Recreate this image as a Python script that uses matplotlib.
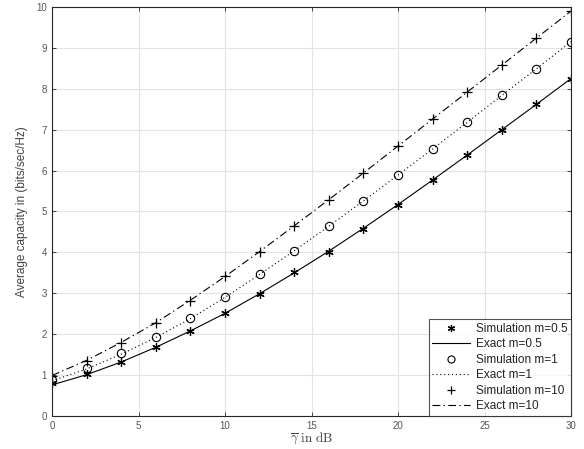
import matplotlib
matplotlib.use("Agg")
import matplotlib.pyplot as plt

plt.rcParams['font.family'] = ['Liberation Sans', 'DejaVu Sans']
plt.rcParams['mathtext.fontset'] = 'cm'

snr_db = [0, 2, 4, 6, 8, 10, 12, 14, 16, 18, 20, 22, 24, 26, 28, 30]
cap_m05 = [0.80, 1.03, 1.33, 1.69, 2.08, 2.51, 2.99, 3.51, 4.01, 4.58, 5.15, 5.78, 6.37, 7.00, 7.62, 8.25]
cap_m1 = [0.88, 1.18, 1.53, 1.94, 2.40, 2.92, 3.47, 4.04, 4.64, 5.26, 5.89, 6.54, 7.19, 7.84, 8.49, 9.14]
cap_m10 = [0.98, 1.35, 1.79, 2.28, 2.82, 3.42, 4.01, 4.64, 5.29, 5.94, 6.60, 7.26, 7.92, 8.58, 9.24, 9.89]
exact_m05 = [0.76, 1.01, 1.32, 1.68, 2.08, 2.51, 2.99, 3.50, 4.03, 4.59, 5.17, 5.77, 6.38, 7.00, 7.62, 8.25]
exact_m1 = [0.86, 1.15, 1.51, 1.92, 2.38, 2.90, 3.46, 4.04, 4.64, 5.26, 5.89, 6.53, 7.18, 7.84, 8.49, 9.15]
exact_m10 = [0.99, 1.36, 1.80, 2.28, 2.83, 3.41, 4.02, 4.65, 5.29, 5.94, 6.60, 7.26, 7.92, 8.58, 9.24, 9.90]

fig = plt.figure(figsize=(5.84, 4.49), dpi=100)
ax = fig.add_axes([52/584, 1 - 416/449, (571-52)/584, (416-7)/449])

tc = '#262626'
ax.plot(snr_db, cap_m05, linestyle='none', marker=(6, 2, 0), markersize=6, color='k', markeredgewidth=0.9, label='Simulation m=0.5')
ax.plot(snr_db, exact_m05, '-', color='k', linewidth=0.8, label='Exact m=0.5')
ax.plot(snr_db, cap_m1, linestyle='none', marker='o', markersize=6, markerfacecolor='none', markeredgecolor='k', markeredgewidth=0.8, label='Simulation m=1')
ax.plot(snr_db, exact_m1, linestyle=(0, (1, 2.5)), color='k', linewidth=0.8, label='Exact m=1')
ax.plot(snr_db, cap_m10, linestyle='none', marker='+', markersize=7, color='k', markeredgewidth=0.9, label='Simulation m=10')
ax.plot(snr_db, exact_m10, linestyle=(0, (7, 3, 1.2, 3)), color='k', linewidth=0.8, label='Exact m=10')

ax.set_xlim(0, 30)
ax.set_ylim(0, 10)
ax.set_xticks([0, 5, 10, 15, 20, 25, 30])
ax.set_yticks(range(0, 11))
ax.grid(True, color='#e3e3e3', linewidth=0.8)
ax.set_axisbelow(True)
ax.tick_params(direction='in', length=3, width=0.6, labelsize=7, colors=tc, labelcolor='#555555', top=True, right=True, labeltop=False, labelright=False)
for s in ax.spines.values():
    s.set_color(tc)
    s.set_linewidth(0.8)

ax.set_xlabel(r'$\overline{\gamma}\ \mathrm{in\ dB}$', fontsize=9.5, color='#404040', labelpad=0)
ax.set_ylabel('Average capacity in (bits/sec/Hz)', fontsize=8.5, color='#404040', labelpad=6)

leg = ax.legend(loc='lower right', fontsize=8.5, frameon=True, fancybox=False, edgecolor=tc,
                borderaxespad=0.0, handlelength=3.2, labelspacing=0.3, borderpad=0.3, handletextpad=0.5,
                markerscale=0.85)
leg.get_frame().set_linewidth(0.8)
for t in leg.get_texts():
    t.set_color('#222222')

fig.savefig('out.png', dpi=100)
